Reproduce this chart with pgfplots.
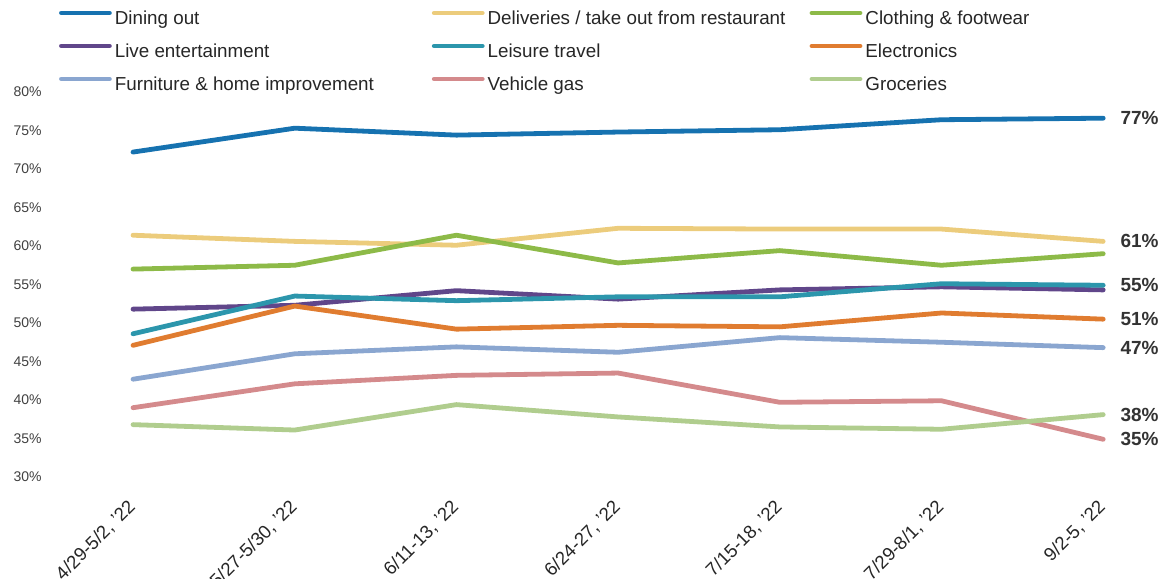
\documentclass[border=0pt]{standalone}
\usepackage{fontspec}
\setmainfont{Liberation Sans}
\usepackage{pgfplots}
\pgfplotsset{compat=1.18}

\definecolor{cDining}{RGB}{22,114,176}
\definecolor{cDeliv}{RGB}{236,204,124}
\definecolor{cCloth}{RGB}{141,186,72}
\definecolor{cLive}{RGB}{96,70,138}
\definecolor{cTravel}{RGB}{44,150,172}
\definecolor{cElec}{RGB}{224,124,48}
\definecolor{cFurn}{RGB}{138,166,208}
\definecolor{cGas}{RGB}{212,138,140}
\definecolor{cGroc}{RGB}{176,205,142}

% fixed-width legend text so the three legend columns line up
\newcommand{\lgdA}[1]{\makebox[158.5pt][l]{#1}}
\newcommand{\lgdB}[1]{\makebox[161pt][l]{#1}}

\begin{document}
\begin{tikzpicture}
\path[use as bounding box] (0,0) rectangle (579pt,289.5pt);
\begin{axis}[
  at={(26.1pt,51pt)}, anchor=south west,
  scale only axis, width=525.5pt, height=192.5pt,
  xmin=-0.5, xmax=6, ymin=30, ymax=80,
  clip=false,
  axis line style={draw=none},
  major tick length=0pt,
  xtick={0,...,6},
  xticklabels={{4/29-5/2, '22},{5/27-5/30, '22},{6/11-13, '22},{6/24-27, '22},{7/15-18, '22},{7/29-8/1, '22},{9/2-5, '22}},
  ytick={30,35,...,80},
  yticklabel={\pgfmathprintnumber{\tick}\%},
  /pgf/number format/assume math mode=true,
  yticklabel style={font=\fontsize{7}{8}\selectfont, text=black!75, xshift=-1.8pt},
  xticklabel style={font=\fontsize{9.3}{11}\selectfont, text=black!85, xshift=2.1pt, yshift=-11.1pt, rotate=45, anchor=east},
  every axis plot/.append style={line width=2.4pt, line join=round, line cap=round, no markers},
  legend columns=3,
  legend cell align=left,
  legend image code/.code={\draw[#1, line width=2.4pt, line cap=round] (0pt,3pt) -- (24pt,3pt); \path (25.5pt,3pt);},
  legend style={draw=none, fill=none, inner sep=0pt, outer sep=0pt,
    at={(0.0065,1.213)}, anchor=north west,
    font=\fontsize{9.4}{11}\selectfont, text=black!85,
    row sep=7.5pt, column sep=0pt,
    nodes={inner sep=0pt, text height=7pt, text depth=2pt}},
]
\addplot[color=cDining] coordinates {(0,72.2) (1,75.3) (2,74.4) (3,74.8) (4,75.1) (5,76.4) (6,76.6)};
\addlegendentry{\lgdA{Dining out}}
\addplot[color=cDeliv] coordinates {(0,61.4) (1,60.6) (2,60.1) (3,62.3) (4,62.2) (5,62.2) (6,60.6)};
\addlegendentry{\lgdB{Deliveries / take out from restaurant}}
\addplot[color=cCloth] coordinates {(0,57.0) (1,57.5) (2,61.4) (3,57.8) (4,59.4) (5,57.5) (6,59.0)};
\addlegendentry{Clothing \& footwear}
\addplot[color=cLive] coordinates {(0,51.8) (1,52.3) (2,54.2) (3,53.1) (4,54.3) (5,54.7) (6,54.3)};
\addlegendentry{\lgdA{Live entertainment}}
\addplot[color=cTravel] coordinates {(0,48.6) (1,53.5) (2,52.9) (3,53.4) (4,53.4) (5,55.1) (6,54.9)};
\addlegendentry{\lgdB{Leisure travel}}
\addplot[color=cElec] coordinates {(0,47.1) (1,52.2) (2,49.2) (3,49.7) (4,49.5) (5,51.3) (6,50.5)};
\addlegendentry{Electronics}
\addplot[color=cFurn] coordinates {(0,42.7) (1,46.0) (2,46.9) (3,46.2) (4,48.1) (5,47.5) (6,46.8)};
\addlegendentry{\lgdA{Furniture \& home improvement}}
\addplot[color=cGas] coordinates {(0,39.0) (1,42.1) (2,43.2) (3,43.5) (4,39.7) (5,39.9) (6,34.9)};
\addlegendentry{\lgdB{Vehicle gas}}
\addplot[color=cGroc] coordinates {(0,36.8) (1,36.1) (2,39.4) (3,37.8) (4,36.5) (5,36.2) (6,38.1)};
\addlegendentry{Groceries}

\begin{scope}[every node/.style={anchor=west, xshift=8.5pt, font=\bfseries\fontsize{9.5}{11}\selectfont, text=black!80, inner sep=0pt}]
\node at (axis cs:6,76.6) {77\%};
\node at (axis cs:6,60.6) {61\%};
\node at (axis cs:6,54.9) {55\%};
\node at (axis cs:6,50.5) {51\%};
\node at (axis cs:6,46.8) {47\%};
\node at (axis cs:6,38.1) {38\%};
\node at (axis cs:6,34.9) {35\%};
\end{scope}
\end{axis}
\end{tikzpicture}
\end{document}
